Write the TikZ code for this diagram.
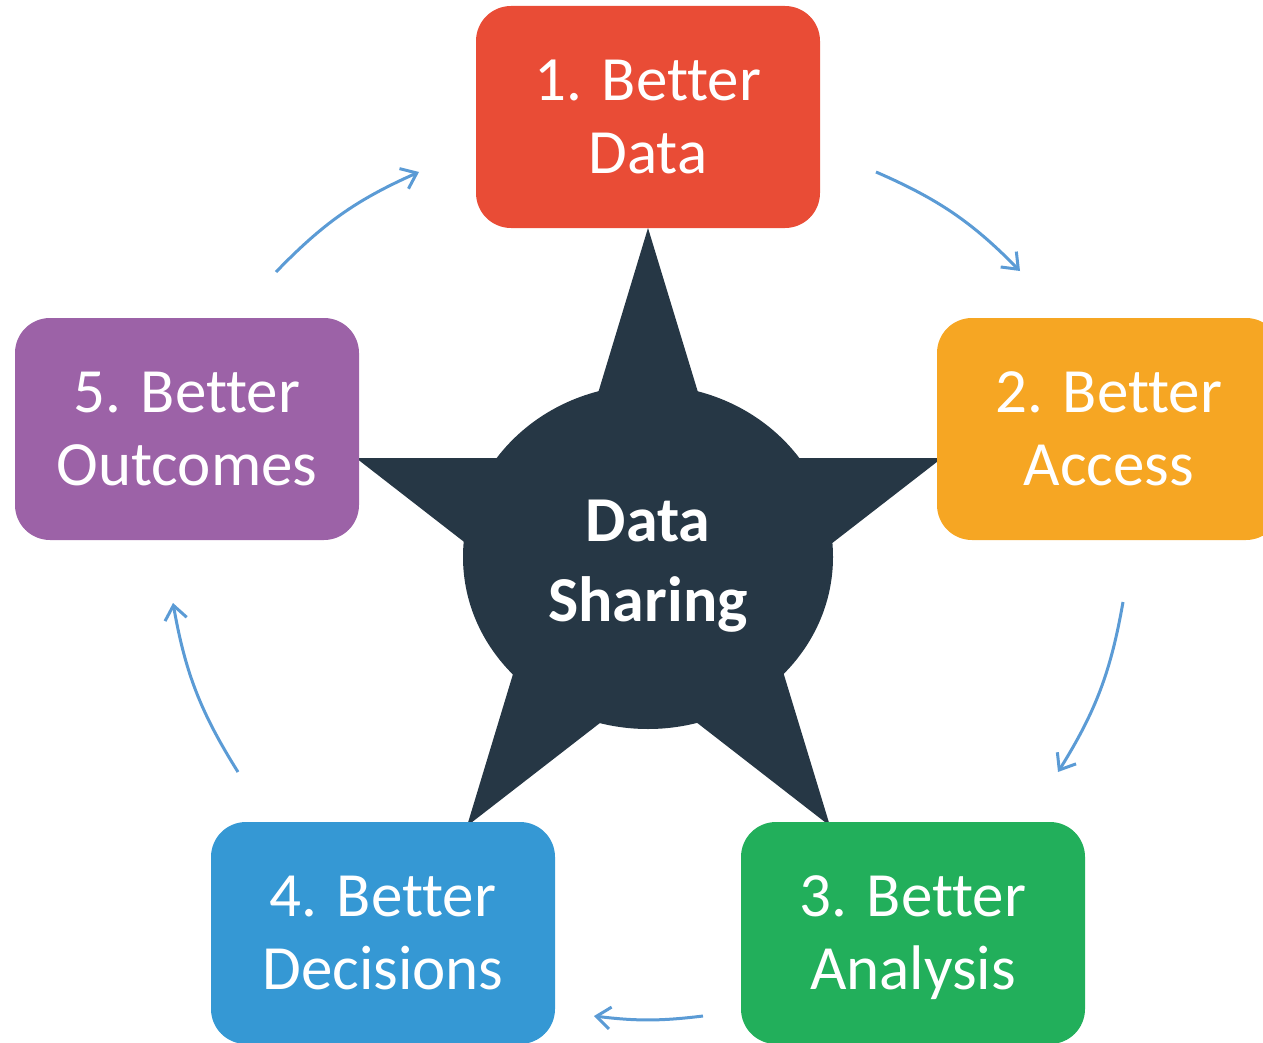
\documentclass[tikz,border=0pt]{standalone}
\usepackage{fontspec}
\setmainfont{Carlito}[Ligatures={NoCommon,NoContextual}, Contextuals=NoAlternate]
\usetikzlibrary{arrows.meta}
\definecolor{stepred}{HTML}{E94C36}
\definecolor{steporange}{HTML}{F6A623}
\definecolor{stepgreen}{HTML}{22AF5B}
\definecolor{stepblue}{HTML}{3598D4}
\definecolor{steppurple}{HTML}{9C62A7}
\definecolor{hubdark}{HTML}{263745}
\definecolor{flowblue}{HTML}{5B9BD5}
\tikzset{
stage/.style = {rounded corners=35pt, minimum width=344pt, minimum height=222pt,
                inner sep=0pt, text=white, align=center,
                font=\fontsize{63}{73}\selectfont},
flow/.style = {draw=flowblue, line width=3pt,
               -{Straight Barb[length=14pt,width=22pt]}}
}

\begin{document}
\begin{tikzpicture}[x=1pt, y=-1pt]
        \useasboundingbox (0,0) rectangle (1263,1043);

        % star tips
        \coordinate (T) at (648,228);
        \coordinate (R) at (942,458);
        \coordinate (BR) at (830,826);
        \coordinate (BL) at (467,826);
        \coordinate (L) at (356,458);
        \fill[hubdark] (T) -- (BL) -- (R) -- (L) -- (BR) -- cycle;
        \fill[hubdark] (648,557) ellipse [x radius=185pt, y radius=172pt];
        \node[text=white, align=center, font=\bfseries\fontsize{64}{80}\selectfont] (0) at (648,566) {Data\\Sharing};

        \node[stage, fill=stepred] (1) at (648,117) {1. Better\\Data};
        \node[stage, fill=steporange] (2) at (1109,429) {2. Better\\Access};
        \node[stage, fill=stepgreen] (3) at (913,933) {3. Better\\\smash{Analysis}};
        \node[stage, fill=stepblue] (4) at (383,933) {4. Better\\Decisions};
        \node[stage, fill=steppurple] (5) at (187,429) {5. Better\\Outcomes};

        % arrows between the boxes
        \coordinate (a1) at (876,172);
        \coordinate (b1) at (1020,271);
        \coordinate (a2) at (1123,602);
        \coordinate (b2) at (1058,772);
        \coordinate (a3) at (703,1016);
        \coordinate (b3) at (594,1016);
        \coordinate (a4) at (238,772);
        \coordinate (b4) at (173,603);
        \coordinate (a5) at (276,272);
        \coordinate (b5) at (419,172);
        \draw[flow] (a1) to[bend left=11] (b1);
        \draw[flow] (a2) to[bend left=11] (b2);
        \draw[flow] (a3) to[bend left=7] (b3);
        \draw[flow] (a4) to[bend left=11] (b4);
        \draw[flow] (a5) to[bend left=11] (b5);
\end{tikzpicture}
\end{document}
